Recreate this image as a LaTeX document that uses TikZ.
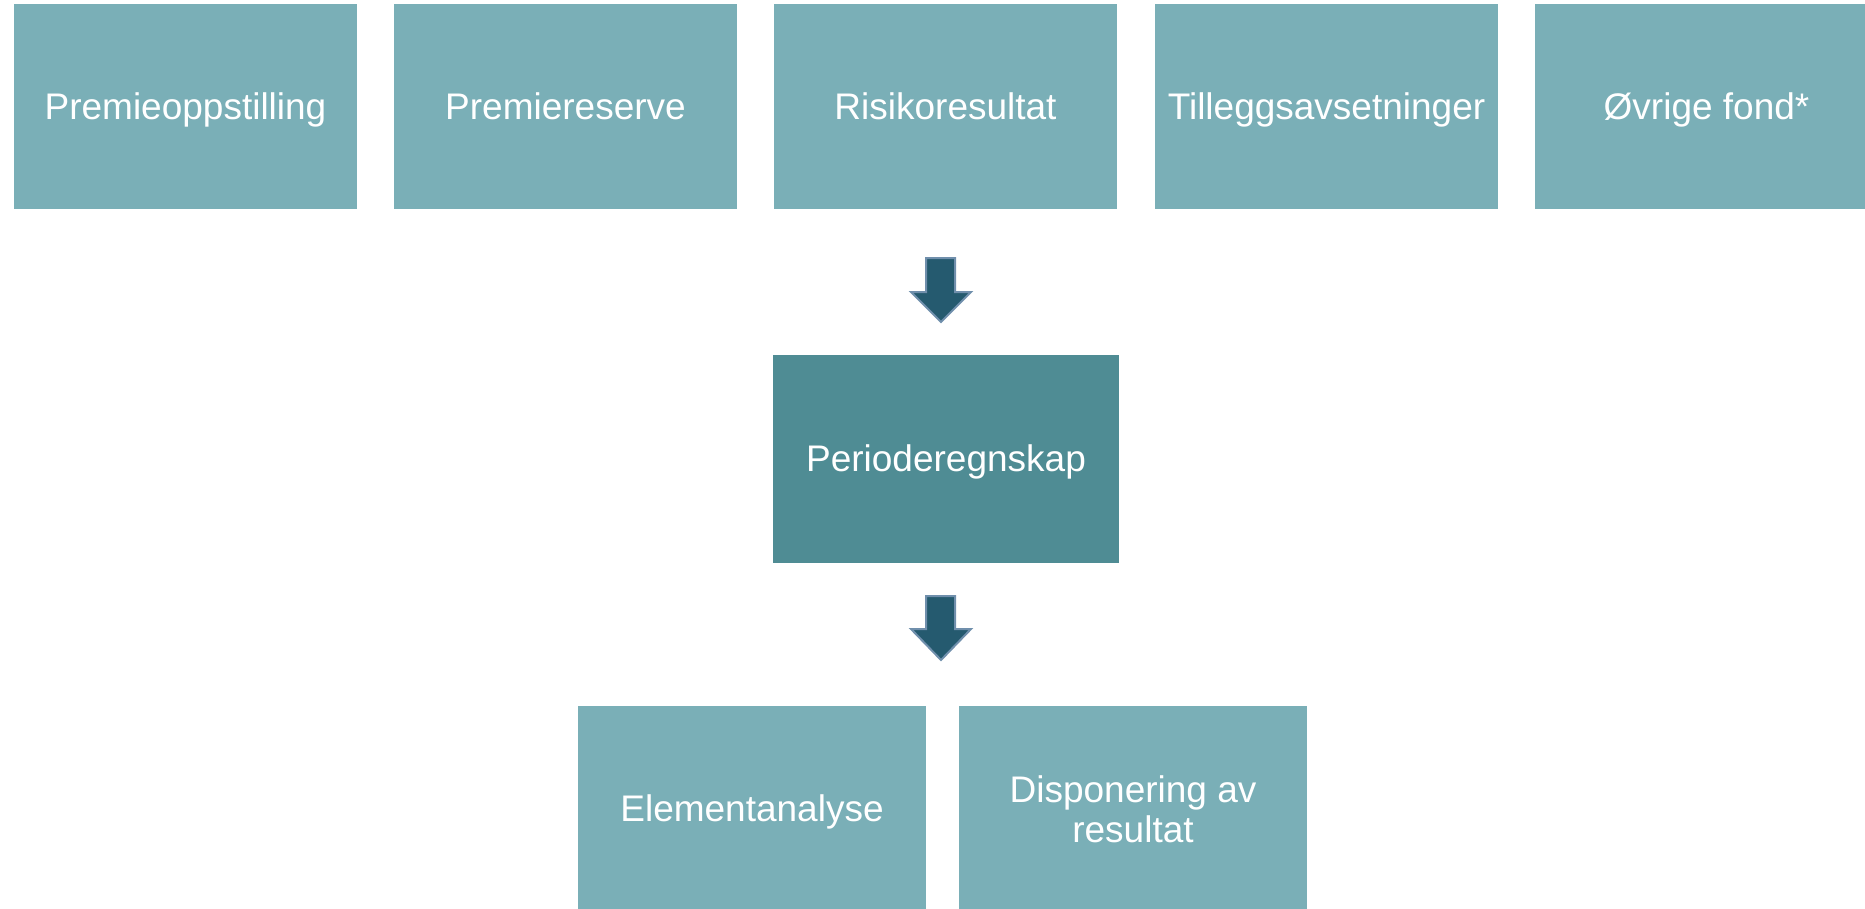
\documentclass[tikz,border=0pt]{standalone}
\usepackage{fontspec}
\setmainfont{Liberation Sans}
\definecolor{boxlight}{RGB}{122,175,183}
\definecolor{boxdark}{RGB}{79,140,148}
\definecolor{arrowfill}{RGB}{37,90,111}
\definecolor{arrowline}{RGB}{112,143,172}
\begin{document}
\begin{tikzpicture}[x=1pt,y=-1pt,
  box/.style={rectangle, fill=boxlight, draw=none, outer sep=0pt, inner sep=0pt,
    minimum width=343pt, minimum height=205pt, text=white, align=center,
    text height=27pt, text depth=2pt,
    font=\fontsize{37}{40}\selectfont},
  darkbox/.style={box, fill=boxdark, minimum width=346pt, minimum height=208pt},
  blockarrow/.style={fill=arrowfill, draw=arrowline, line width=2pt, line join=miter}]
\useasboundingbox (0,0) rectangle (1865,908);
% top row
\node[box] (b1) at (185.5,106.5) {Premieoppstilling};
\node[box] (b2) at (565.5,106.5) {Premiereserve};
\node[box] (b3) at (945.5,106.5) {Risikoresultat};
\node[box] (b4) at (1326.5,106.5) {Tilleggsavsetninger};
\node[box] (b5) at (1706.5,106.5) {Øvrige fond*};
% middle
\node[darkbox] (mid) at (946,459) {Perioderegnskap};
% bottom
\node[box, minimum width=348pt, minimum height=206pt] (e1) at (752,809) {Elementanalyse};
\node[box, minimum width=348pt, minimum height=206pt, text height=, text depth=] (e2) at (1133,809) {Disponering av\\resultat};
% arrows
\draw[blockarrow] (926,258) -- (955,258) -- (955,292) -- (971,292) -- (941,322) -- (911,292) -- (926,292) -- cycle;
\draw[blockarrow] (926,596) -- (955,596) -- (955,629) -- (971,629) -- (941,660) -- (911,629) -- (926,629) -- cycle;
\end{tikzpicture}
\end{document}
